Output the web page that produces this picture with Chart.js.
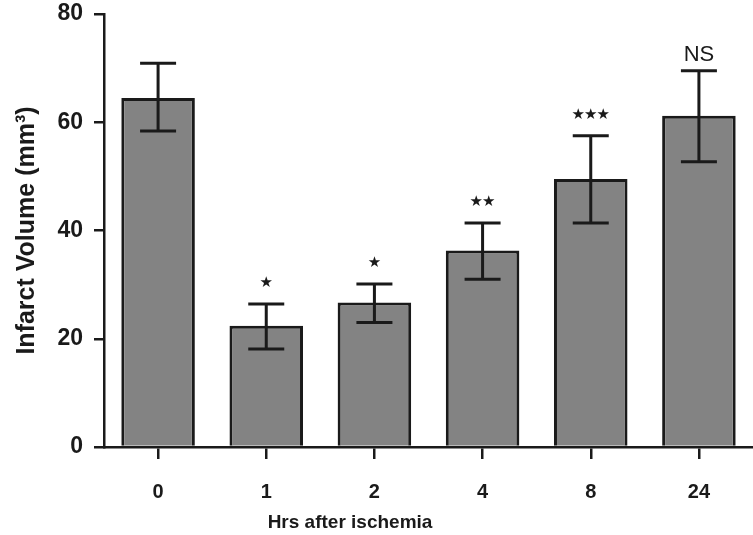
<!DOCTYPE html>
<html>
<head>
<meta charset="utf-8">
<script src="https://cdn.jsdelivr.net/npm/chart.js@4"></script>
<style>
  html, body { margin: 0; padding: 0; background: #fff; }
  #wrap { width: 753px; height: 535px; }
</style>
</head>
<body>
<div id="wrap"><canvas id="infarctChart" width="753" height="535"></canvas></div>
<script>
// Infarct volume vs. time after ischemia
const hours = ['0', '1', '2', '4', '8', '24'];
const meanVolume = [64.5, 22.4, 26.7, 36.3, 49.5, 61.2];
const errUpper = [70.9, 26.4, 30.1, 41.4, 57.5, 69.5];
const errLower = [58.4, 18.1, 23.0, 31.0, 41.4, 52.7];
const sigLabels = ['', '*', '*', '**', '***', 'NS'];
const yTicks = [0, 20, 40, 60, 80];
const xTitle = 'Hrs after ischemia';

const ink = '#1a1a1a';
const sans = '"Liberation Sans", Arial, sans-serif';

// error bars, significance marks and the x title, placed through the chart scales
const errorBarPlugin = {
    id: 'errorBars',
    afterDatasetsDraw(chart) {
        const ctx = chart.ctx;
        const x = chart.scales.x;
        const y = chart.scales.y;
        ctx.save();
        ctx.strokeStyle = ink;
        ctx.lineWidth = 3;
        ctx.lineCap = 'butt';
        hours.forEach((h, i) => {
            const cx = x.getPixelForValue(i);
            const yt = y.getPixelForValue(errUpper[i]);
            const yb = y.getPixelForValue(errLower[i]);
            const cap = 18;
            ctx.beginPath();
            ctx.moveTo(cx, yt);
            ctx.lineTo(cx, yb);
            ctx.moveTo(cx - cap, yt);
            ctx.lineTo(cx + cap, yt);
            ctx.moveTo(cx - cap, yb);
            ctx.lineTo(cx + cap, yb);
            ctx.stroke();

            const label = sigLabels[i];
            if (!label) return;
            ctx.fillStyle = ink;
            ctx.textAlign = 'center';
            ctx.textBaseline = 'middle';
            if (label === 'NS') {
                ctx.font = '22px ' + sans;
                ctx.fillText(label, cx, yt - 16);
            } else {
                ctx.font = '15px "DejaVu Sans", sans-serif';
                const n = label.length;
                for (let k = 0; k < n; k++) {
                    const sx = cx + (k - (n - 1) / 2) * 12.5;
                    ctx.fillText('\u2605', sx, yt - 21);
                }
            }
        });

        // x title sits left of the axis centre in the original figure
        ctx.font = 'bold 19px ' + sans;
        ctx.textAlign = 'center';
        ctx.textBaseline = 'middle';
        ctx.fillText(xTitle, 350, x.bottom - 12);
        ctx.restore();
    }
};

const ctx = document.getElementById('infarctChart').getContext('2d');
new Chart(ctx, {
    type: 'bar',
    data: {
        labels: hours,
        datasets: [{
            data: meanVolume,
            backgroundColor: '#838383',
            borderColor: ink,
            borderWidth: 3,
            barPercentage: 0.68,
            categoryPercentage: 1.0
        }]
    },
    options: {
        responsive: false,
        animation: false,
        devicePixelRatio: 1,
        layout: { padding: { top: 14, right: 0, left: 0, bottom: 0 } },
        plugins: {
            legend: { display: false },
            tooltip: { enabled: false }
        },
        scales: {
            x: {
                afterFit(scale) {
                    scale.height = 88;
                    scale.paddingLeft = 0;
                    scale.paddingRight = 0;
                },
                grid: {
                    offset: false,
                    drawOnChartArea: false,
                    drawTicks: true,
                    tickLength: 12,
                    color: ink,
                    lineWidth: 2.5
                },
                border: { display: true, color: ink, width: 2.5 },
                ticks: {
                    color: ink,
                    padding: 21,
                    font: { family: sans, size: 20, weight: 'bold' }
                }
            },
            y: {
                min: 0,
                max: 80,
                afterFit(scale) {
                    scale.width = 104;
                    scale.paddingTop = 0;
                    scale.paddingBottom = 0;
                },
                afterBuildTicks(scale) { scale.ticks = yTicks.map(v => ({ value: v })); },
                grid: {
                    drawOnChartArea: false,
                    drawTicks: true,
                    tickLength: 10,
                    color: ink,
                    lineWidth: 2.5
                },
                border: { display: true, color: ink, width: 2.5 },
                ticks: {
                    color: ink,
                    padding: 11,
                    font: { family: sans, size: 23, weight: 'bold' }
                },
                title: {
                    display: true,
                    text: 'Infarct Volume (mm\u00b3)',
                    color: ink,
                    padding: { top: 12, bottom: 0 },
                    font: { family: sans, size: 25, weight: 'bold' }
                }
            }
        }
    },
    plugins: [errorBarPlugin]
});
</script>
</body>
</html>
